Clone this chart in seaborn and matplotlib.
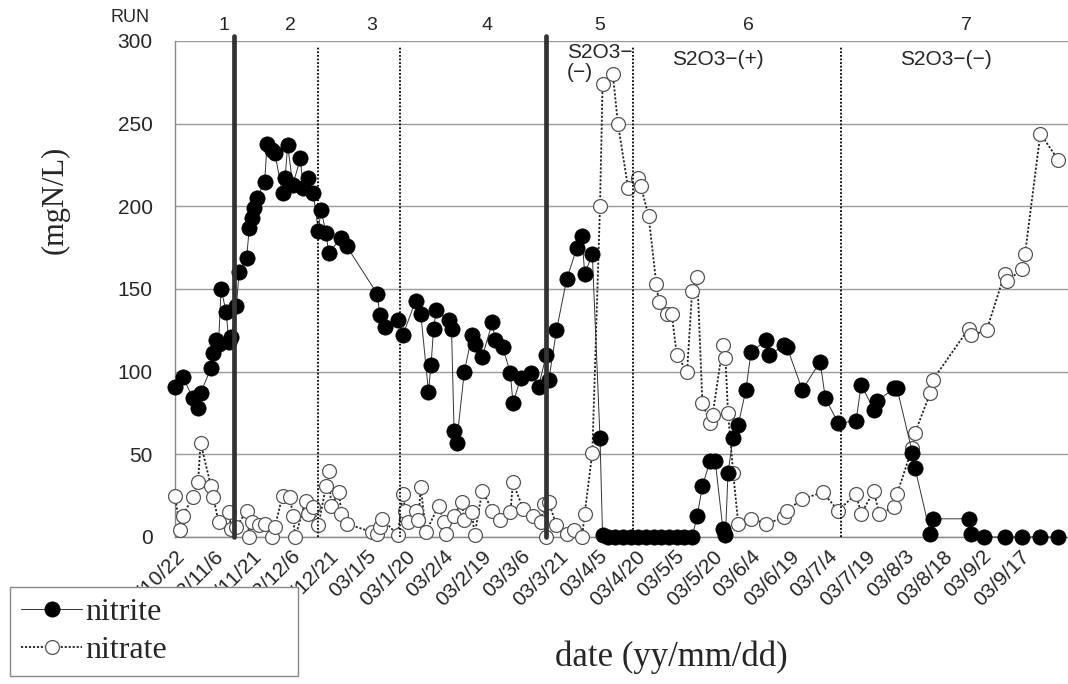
import matplotlib
matplotlib.use("Agg")
import matplotlib.pyplot as plt
import matplotlib.dates as mdates
import pandas as pd
import seaborn as sns

# Nitrite (filled circles) - sampling dates and values (mgN/L)
nitrite_dates = [
    "2002-10-22", "2002-10-25", "2002-10-29", "2002-10-31", "2002-11-01", "2002-11-05",
    "2002-11-06", "2002-11-07", "2002-11-08", "2002-11-09", "2002-11-11", "2002-11-12",
    "2002-11-13", "2002-11-15", "2002-11-16", "2002-11-19", "2002-11-20", "2002-11-21",
    "2002-11-22", "2002-11-23", "2002-11-26", "2002-11-27", "2002-11-29", "2002-11-30",
    "2002-12-03", "2002-12-04", "2002-12-05", "2002-12-07", "2002-12-10", "2002-12-11",
    "2002-12-13", "2002-12-15", "2002-12-17", "2002-12-18", "2002-12-20", "2002-12-21",
    "2002-12-26", "2002-12-28",
    "2003-01-09", "2003-01-10", "2003-01-12", "2003-01-17", "2003-01-19", "2003-01-24",
    "2003-01-26", "2003-01-29", "2003-01-30", "2003-01-31", "2003-02-01", "2003-02-06",
    "2003-02-07", "2003-02-08", "2003-02-09", "2003-02-12", "2003-02-15", "2003-02-16",
    "2003-02-19", "2003-02-23", "2003-02-24", "2003-02-27", "2003-03-02", "2003-03-03",
    "2003-03-06", "2003-03-10", "2003-03-13", "2003-03-16", "2003-03-17", "2003-03-20",
    "2003-03-24", "2003-03-28", "2003-03-30", "2003-03-31", "2003-04-03", "2003-04-06",
    "2003-04-07",
    "2003-04-09", "2003-04-12", "2003-04-15", "2003-04-18", "2003-04-21", "2003-04-24",
    "2003-04-27", "2003-04-30", "2003-05-03", "2003-05-06", "2003-05-09", "2003-05-12",
    "2003-05-14", "2003-05-16", "2003-05-19", "2003-05-21", "2003-05-24", "2003-05-25",
    "2003-05-26", "2003-05-28", "2003-05-30", "2003-06-02", "2003-06-04", "2003-06-10",
    "2003-06-11", "2003-06-17", "2003-06-18", "2003-06-24", "2003-07-01", "2003-07-03",
    "2003-07-08", "2003-07-15", "2003-07-17", "2003-07-22", "2003-07-23", "2003-07-30",
    "2003-07-31", "2003-08-06", "2003-08-07", "2003-08-13", "2003-08-14", "2003-08-28",
    "2003-08-29", "2003-09-03", "2003-09-11", "2003-09-18", "2003-09-25", "2003-10-02",
]
nitrite_values = [
    91, 97, 84, 78, 87, 102, 111, 119, 117, 150, 136, 118, 121, 140, 160, 169, 187, 193,
    199, 205, 215, 238, 234, 232, 208, 217, 237, 213, 229, 211, 217, 208, 185, 198, 184,
    172, 181, 176,
    147, 134, 127, 131, 122, 143, 135, 88, 104, 126, 137, 131, 126, 64, 57, 100, 122, 117,
    109, 130, 119, 115, 99, 81, 96, 99, 91, 110, 95, 125, 156, 175, 182, 159, 171, 60, 1,
    0, 0, 0, 0, 0, 0, 0, 0, 0, 0, 0, 0,
    13, 31, 46, 46, 5, 1, 39, 60, 68, 89, 112, 119, 110, 116, 115, 89, 106, 84, 69, 70,
    92, 77, 82, 90, 90, 51, 42, 2, 11, 11, 2, 0, 0, 0, 0, 0,
]

# Nitrate (open circles)
nitrate_dates = [
    "2002-10-22", "2002-10-24", "2002-10-25", "2002-10-29", "2002-10-31", "2002-11-01",
    "2002-11-05", "2002-11-06", "2002-11-08", "2002-11-12", "2002-11-13", "2002-11-15",
    "2002-11-19", "2002-11-20", "2002-11-21", "2002-11-24", "2002-11-26", "2002-11-29",
    "2002-11-30", "2002-12-03", "2002-12-06", "2002-12-07", "2002-12-08", "2002-12-12",
    "2002-12-13", "2002-12-15", "2002-12-17", "2002-12-20", "2002-12-21", "2002-12-22",
    "2002-12-25", "2002-12-26", "2002-12-28",
    "2003-01-07", "2003-01-09", "2003-01-10", "2003-01-11", "2003-01-17", "2003-01-19",
    "2003-01-20", "2003-01-21", "2003-01-24", "2003-01-25", "2003-01-26", "2003-01-28",
    "2003-02-02", "2003-02-04", "2003-02-05", "2003-02-08", "2003-02-11", "2003-02-12",
    "2003-02-15", "2003-02-16", "2003-02-19", "2003-02-23", "2003-02-26", "2003-03-02",
    "2003-03-03", "2003-03-07", "2003-03-11", "2003-03-14", "2003-03-15", "2003-03-16",
    "2003-03-17", "2003-03-20", "2003-03-24", "2003-03-27", "2003-03-30", "2003-03-31",
    "2003-04-03", "2003-04-06", "2003-04-07", "2003-04-11", "2003-04-13", "2003-04-17",
    "2003-04-21", "2003-04-22", "2003-04-25", "2003-04-28", "2003-04-29", "2003-05-02",
    "2003-05-04", "2003-05-06", "2003-05-10", "2003-05-12", "2003-05-14", "2003-05-16",
    "2003-05-19", "2003-05-20", "2003-05-24", "2003-05-25", "2003-05-26", "2003-05-28",
    "2003-05-30", "2003-06-04", "2003-06-10", "2003-06-17", "2003-06-18", "2003-06-24",
    "2003-07-02", "2003-07-08", "2003-07-15", "2003-07-17", "2003-07-22", "2003-07-24",
    "2003-07-30", "2003-07-31", "2003-08-06", "2003-08-07", "2003-08-13", "2003-08-14",
    "2003-08-28", "2003-08-29", "2003-09-04", "2003-09-11", "2003-09-12", "2003-09-18",
    "2003-09-19", "2003-09-25", "2003-10-02",
]
nitrate_values = [
    25, 4, 13, 24, 33, 57, 31, 24, 9, 15, 5, 6, 16, 0, 9, 7, 8, 0, 6, 25, 24, 13, 0, 22,
    14, 18, 7, 31, 40, 19, 27, 14, 8,
    3, 2, 6, 11, 1, 26, 16, 9, 16, 10, 30, 3, 19, 9, 2, 13, 21, 10, 15, 1, 28, 16, 10,
    15, 33, 17, 13, 9, 20, 0, 21, 7, 2, 4, 0, 14, 51, 200, 274, 280, 250, 211, 217, 212,
    194, 153, 142, 135, 135, 110, 100, 149, 157, 81, 69, 74, 116, 108, 75, 39, 8, 11, 8,
    12, 16, 23, 27, 16, 26, 14, 28, 14, 18, 26, 54, 63, 87, 95, 126, 122, 125, 159, 155,
    162, 171, 244, 228,
]

# RUN boundaries and labels
thick_breaks = ["2002-11-14", "2003-03-16"]
dotted_breaks = ["2002-12-17", "2003-01-18", "2003-04-19", "2003-07-09"]
run_labels = ["1", "2", "3", "4", "5", "6", "7"]
run_label_dates = ["2002-11-10", "2002-12-06", "2003-01-07", "2003-02-21",
                   "2003-04-06", "2003-06-03", "2003-08-27"]

tick_dates = pd.date_range("2002-10-22", "2003-09-17", freq="15D")
tick_labels = [f"{d:%y}/{d.month}/{d.day}" for d in tick_dates]

sns.set_style("white")
plt.rcParams["font.family"] = ["Liberation Sans", "DejaVu Sans"]

fig = plt.figure(figsize=(10.68, 6.84), dpi=100)
ax = fig.add_axes([175 / 1068, 1 - 537 / 684, 893 / 1068, 496 / 684])

sns.lineplot(x=pd.to_datetime(nitrate_dates), y=nitrate_values, ax=ax,
             estimator=None, sort=False, legend=False, color="#222222",
             linewidth=1.3, linestyle=(0, (1.2, 1.0)), marker="o", markersize=10,
             markerfacecolor="white", markeredgecolor="#555555",
             markeredgewidth=0.9, clip_on=False, zorder=3)
sns.lineplot(x=pd.to_datetime(nitrite_dates), y=nitrite_values, ax=ax,
             estimator=None, sort=False, legend=False, color="#333333",
             linewidth=0.7, marker="o", markersize=11, markerfacecolor="black",
             markeredgecolor="black", markeredgewidth=0.5, clip_on=False, zorder=4)

for d in thick_breaks:
    ax.axvline(pd.Timestamp(d), ymin=0, ymax=1.01, color="#333333", lw=3.4,
               clip_on=False, zorder=5)
for d in dotted_breaks:
    ax.axvline(pd.Timestamp(d), ymin=0, ymax=0.99, color="black", lw=1.3,
               linestyle=(0, (1, 1)), zorder=5)

xtr = ax.get_xaxis_transform()
for lab, d in zip(run_labels, run_label_dates):
    ax.text(mdates.date2num(pd.Timestamp(d)), 1.032, lab, transform=xtr,
            ha="center", va="center", fontsize=14)
fig.text(130 / 1068, 1 - 17 / 684, "RUN", ha="center", va="center", fontsize=13)

ax.text(mdates.date2num(pd.Timestamp("2003-03-24")), 0.995, "S2O3\u2212\n(\u2212)",
        transform=xtr, ha="left", va="top", fontsize=15, linespacing=1.05)
ax.text(mdates.date2num(pd.Timestamp("2003-05-22")), 0.962, "S2O3\u2212(+)",
        transform=xtr, ha="center", va="center", fontsize=15)
ax.text(mdates.date2num(pd.Timestamp("2003-08-19")), 0.962, "S2O3\u2212(\u2212)",
        transform=xtr, ha="center", va="center", fontsize=15)

ax.set_ylim(0, 300)
ax.set_yticks(range(0, 301, 50))
ax.set_xlim(pd.Timestamp("2002-10-22"), pd.Timestamp("2003-10-05 19:00"))
ax.set_xticks(tick_dates)
ax.set_xticklabels(tick_labels, rotation=45, ha="right", rotation_mode="anchor",
                   fontsize=15)
ax.tick_params(axis="y", labelsize=15, length=4, color="#888888", pad=12)
ax.tick_params(axis="x", direction="in", length=5, color="#888888", pad=7)
ax.yaxis.grid(True, color="#999999", lw=1)
ax.set_axisbelow(True)
ax.set_xlabel("")
ax.set_ylabel("")
for side in ["top", "right"]:
    ax.spines[side].set_visible(False)
for side in ["left", "bottom"]:
    ax.spines[side].set_color("#888888")
    ax.spines[side].set_linewidth(1)

fig.text(55 / 1068, 1 - 200 / 684, "(mgN/L)", family="Liberation Serif",
         fontsize=22, rotation=90, ha="center", va="center")
fig.text(671 / 1068, 1 - 657 / 684, "date (yy/mm/dd)", family="Liberation Serif",
         fontsize=25, ha="center", va="center")

leg = fig.legend(ax.lines[:2][::-1], ["nitrite", "nitrate"], loc="lower left",
                 bbox_to_anchor=(10 / 1068, 1 - 676 / 684, 288 / 1068, 93 / 684),
                 mode="expand", frameon=True, fancybox=False, edgecolor="#888888",
                 framealpha=1, prop={"family": "Liberation Serif", "size": 23},
                 handlelength=1.9, handletextpad=0.1, borderpad=0.35,
                 labelspacing=0.25, borderaxespad=0)
leg.get_frame().set_linewidth(1)

fig.savefig("out.png", dpi=100)
